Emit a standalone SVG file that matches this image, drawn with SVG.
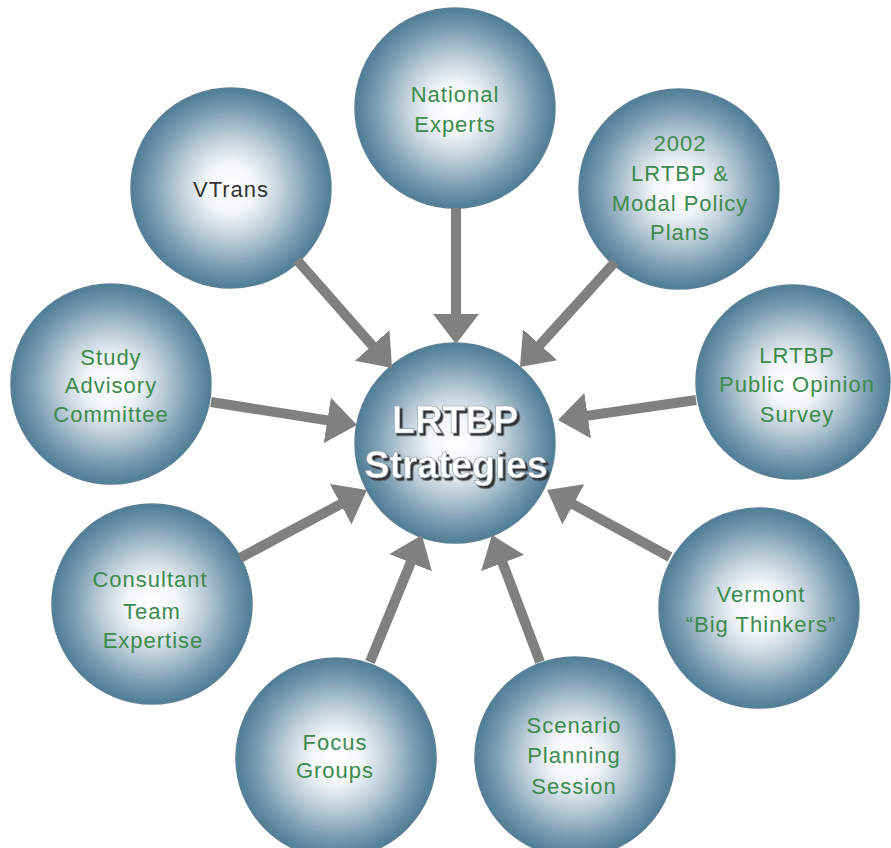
<svg xmlns="http://www.w3.org/2000/svg" width="891" height="848" viewBox="0 0 891 848">
<defs>
<radialGradient id="ball" cx="50%" cy="50%" r="50%">
<stop offset="0" stop-color="#ffffff"/>
<stop offset="0.25" stop-color="#f3f6f8"/>
<stop offset="0.52" stop-color="#bccdd8"/>
<stop offset="0.8" stop-color="#789bb0"/>
<stop offset="1" stop-color="#4f7d96"/>
</radialGradient>
<marker id="head" viewBox="0 0 30 46" refX="10" refY="23" markerWidth="30" markerHeight="46" markerUnits="userSpaceOnUse" orient="auto">
<path d="M0,0 L30,23 L0,46 Z" fill="#808080"/>
</marker>
<filter id="drop" x="-10%" y="-20%" width="130%" height="150%">
<feDropShadow dx="2.5" dy="2.5" stdDeviation="0.6" flood-color="#333333" flood-opacity="1"/>
</filter>
</defs>
<style>
.ball{fill:url(#ball);stroke:#5b8196;stroke-width:1.5}
.lbl{font-family:"Liberation Sans",Arial,sans-serif;font-size:22px;letter-spacing:1px;fill:#3d8b4e;text-anchor:middle}
.dark{fill:#333333}
.big{font-family:"Liberation Sans",Arial,sans-serif;font-size:38px;font-weight:bold;text-anchor:middle;fill:#ffffff;stroke:#8a9aa4;stroke-width:0.6;filter:url(#drop)}
.conn line{stroke:#808080;stroke-width:10;marker-end:url(#head)}
</style>
<rect width="891" height="848" fill="#ffffff"/>

<g id="national-experts">
<circle class="ball" cx="455" cy="108" r="100"/>
<text class="lbl" x="455" y="102">National</text>
<text class="lbl" x="455" y="132">Experts</text>
</g>
<g id="vtrans">
<circle class="ball" cx="231" cy="188" r="100"/>
<text class="lbl dark" x="231" y="197">VTrans</text>
</g>
<g id="lrtbp-2002">
<circle class="ball" cx="679" cy="189" r="100"/>
<text class="lbl" x="680" y="151">2002</text>
<text class="lbl" x="680" y="181">LRTBP &amp;</text>
<text class="lbl" x="680" y="211">Modal Policy</text>
<text class="lbl" x="680" y="240">Plans</text>
</g>
<g id="study-advisory">
<circle class="ball" cx="111" cy="384" r="100"/>
<text class="lbl" x="111" y="365">Study</text>
<text class="lbl" x="111" y="393">Advisory</text>
<text class="lbl" x="111" y="422">Committee</text>
</g>
<g id="public-opinion">
<circle class="ball" cx="793" cy="382" r="97"/>
<text class="lbl" x="797" y="363">LRTBP</text>
<text class="lbl" x="797" y="392">Public Opinion</text>
<text class="lbl" x="797" y="422">Survey</text>
</g>
<g id="consultant">
<circle class="ball" cx="152" cy="604" r="100"/>
<text class="lbl" x="150" y="587">Consultant</text>
<text class="lbl" x="152" y="619">Team</text>
<text class="lbl" x="153" y="648">Expertise</text>
</g>
<g id="vermont">
<circle class="ball" cx="759" cy="608" r="100"/>
<text class="lbl" x="761" y="602">Vermont</text>
<text class="lbl" x="761" y="632">“Big Thinkers”</text>
</g>
<g id="focus-groups">
<circle class="ball" cx="336" cy="758" r="100"/>
<text class="lbl" x="335" y="750">Focus</text>
<text class="lbl" x="335" y="778">Groups</text>
</g>
<g id="scenario">
<circle class="ball" cx="575" cy="757" r="100"/>
<text class="lbl" x="574" y="733">Scenario</text>
<text class="lbl" x="574" y="763">Planning</text>
<text class="lbl" x="574" y="794">Session</text>
</g>
<g id="strategies">
<circle class="ball" cx="455" cy="443" r="100"/>
<text class="big" x="455" y="433">LRTBP</text>
<text class="big" x="456" y="478">Strategies</text>
</g>

<g id="connectors" class="conn">
<line x1="456" y1="208" x2="456" y2="324"/>
<line x1="297" y1="260" x2="378.8" y2="353"/>
<line x1="615" y1="262" x2="533.4" y2="352.2"/>
<line x1="211" y1="402" x2="337.2" y2="421.9"/>
<line x1="696" y1="400" x2="577.8" y2="417.1"/>
<line x1="240" y1="558" x2="349.4" y2="499.4"/>
<line x1="670" y1="557" x2="564.6" y2="499.6"/>
<line x1="370" y1="662" x2="414.4" y2="553.5"/>
<line x1="540" y1="662" x2="499.1" y2="553.7"/>
</g>
</svg>
